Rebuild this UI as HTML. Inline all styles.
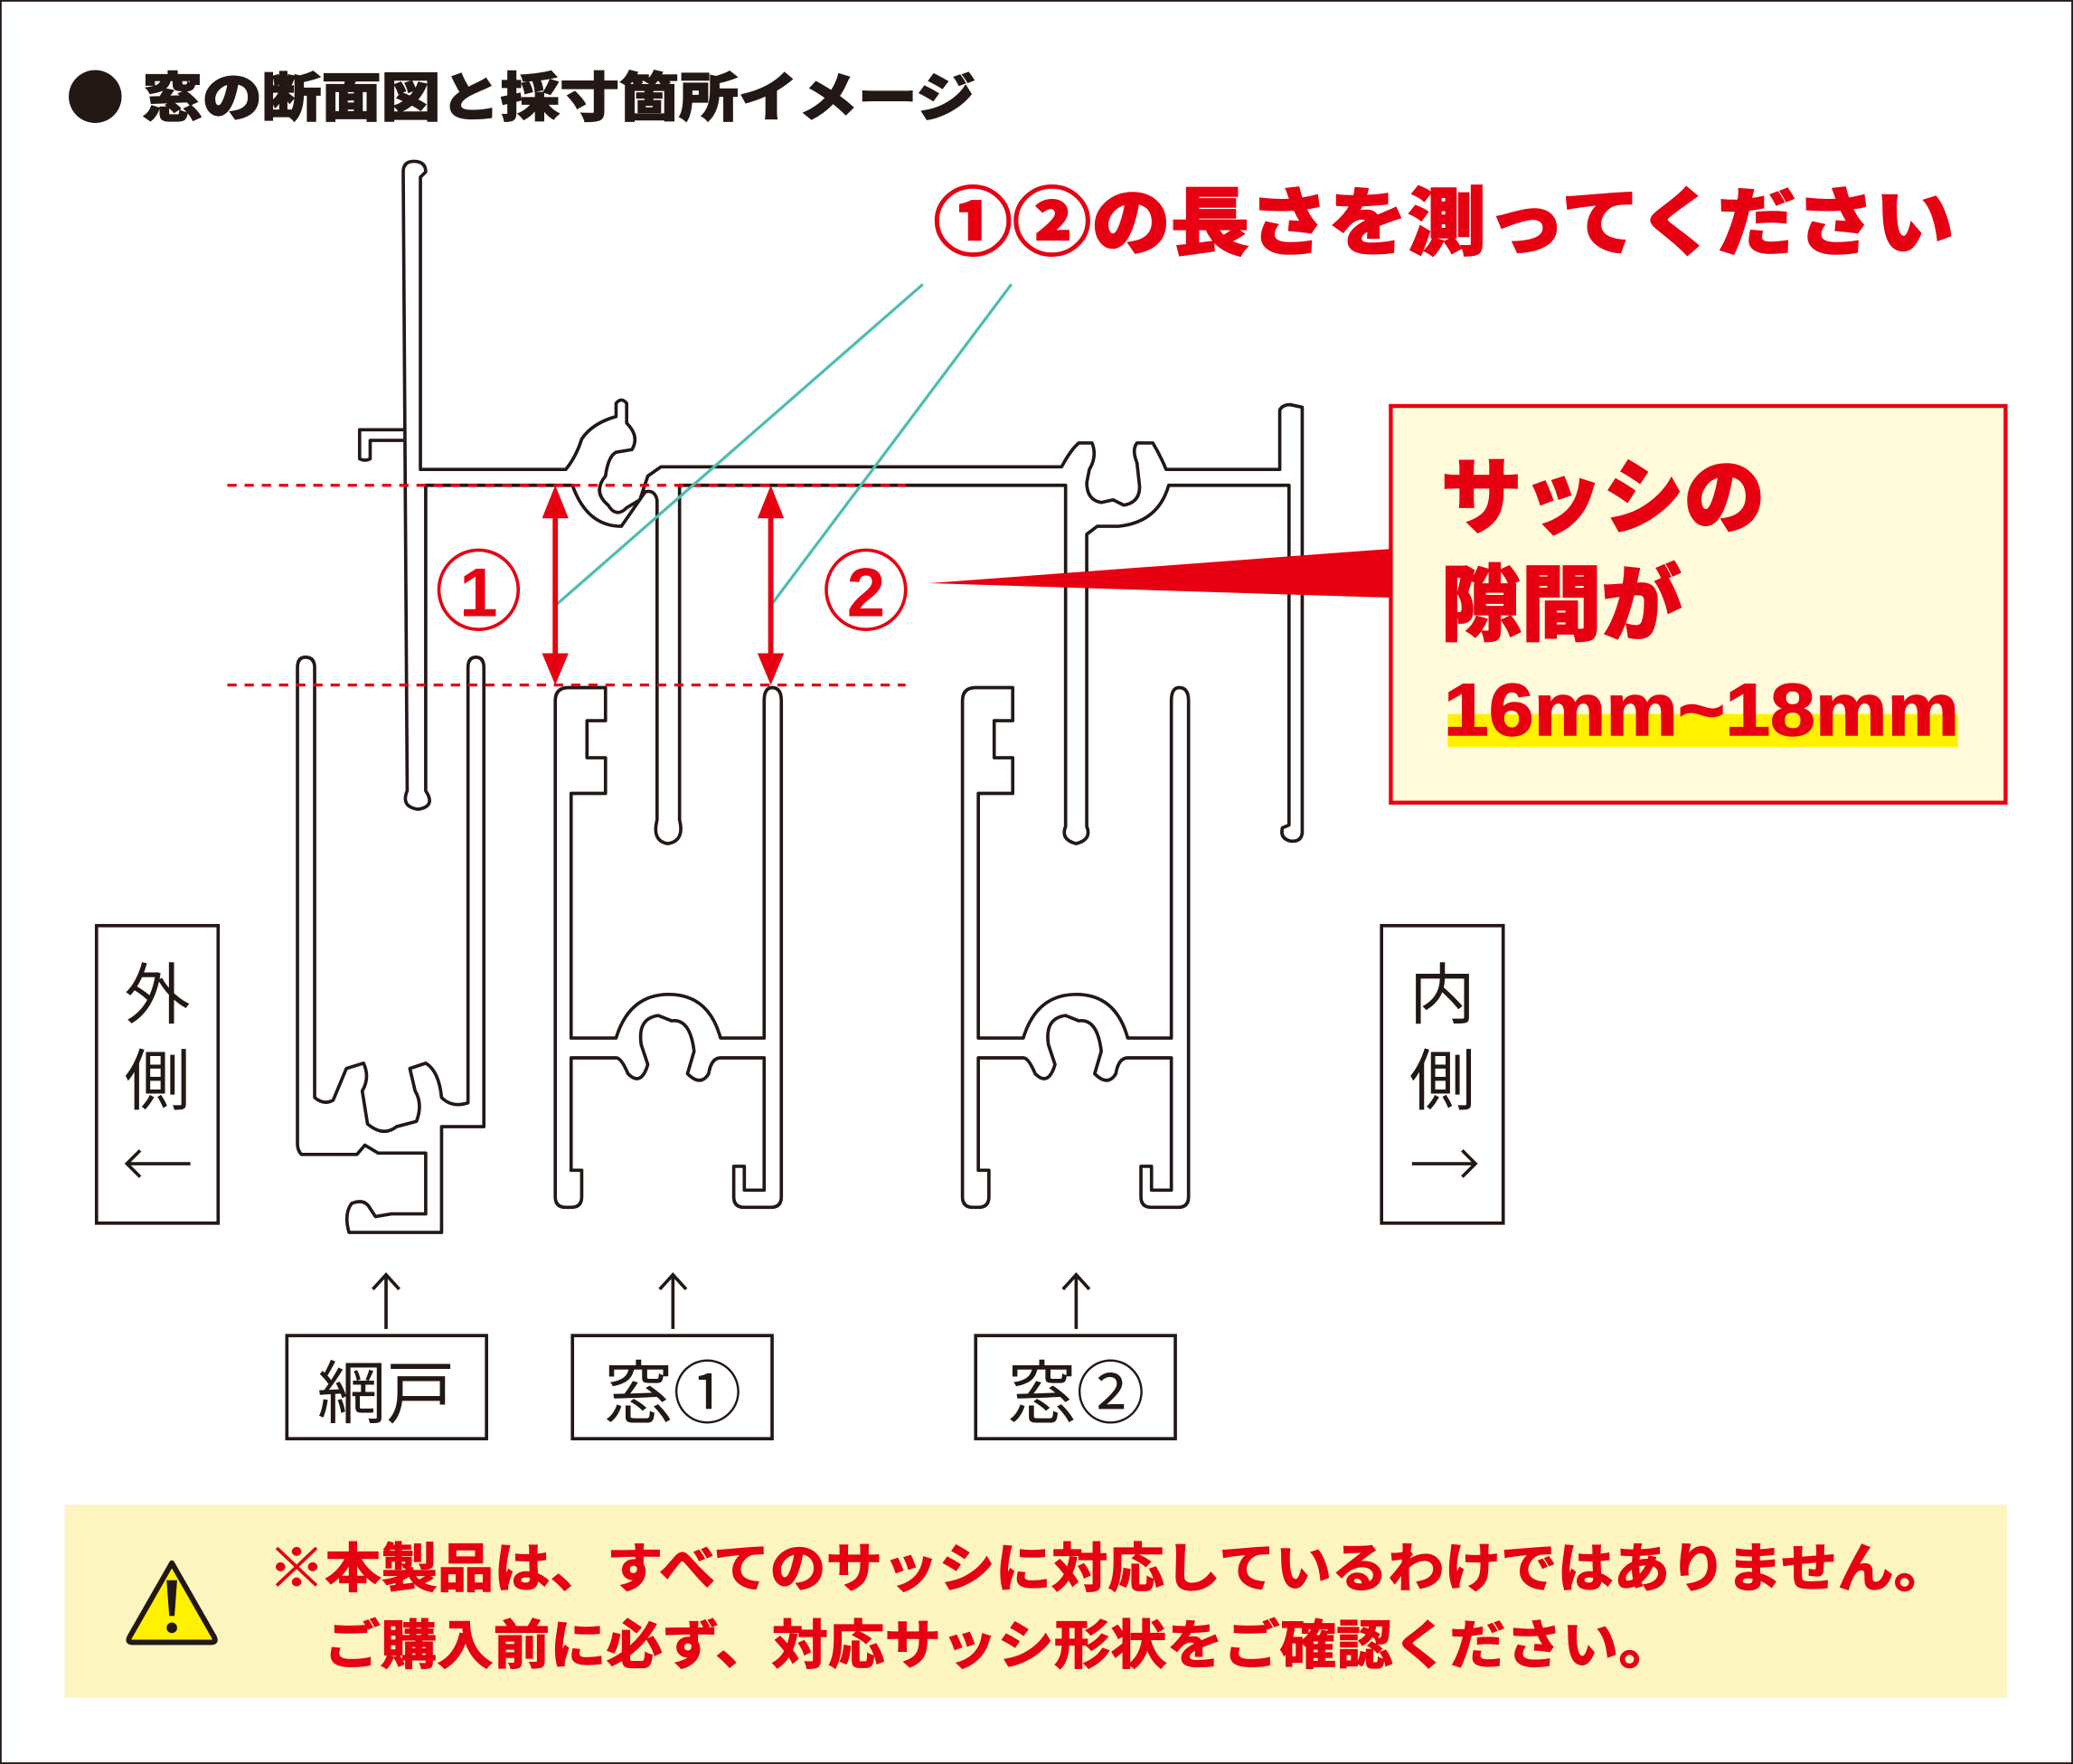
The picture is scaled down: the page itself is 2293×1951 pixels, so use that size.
<!DOCTYPE html>
<html><head><meta charset="utf-8"><style>
html,body{margin:0;padding:0;background:#fff}
svg{display:block}
</style></head><body>
<svg width="2293" height="1951" viewBox="0 0 1568 1334" preserveAspectRatio="none" xmlns="http://www.w3.org/2000/svg" font-family="'Liberation Sans','Noto Sans CJK JP',sans-serif">
<rect x="0.5" y="0.5" width="1567" height="1333" fill="#fff" stroke="#231815" stroke-width="1.5"/>
<circle cx="72" cy="73" r="20" fill="#231815"/>
<text x="108" y="88" font-size="40" font-weight="900" fill="#231815" stroke="#231815" stroke-width="0.8" textLength="630" lengthAdjust="spacingAndGlyphs">窓の断面図と採寸箇所イメージ</text>
<text x="706" y="188" font-size="56" font-weight="900" fill="#e60012" stroke="#e60012" stroke-width="1" textLength="772" lengthAdjust="spacingAndGlyphs">①②の長さを測ってください</text>

<g fill="#fff" stroke="#231815" stroke-width="2.5" stroke-linejoin="round">
<path d="M305,130 Q305,122 313,122 Q322,122 322,130 L318,134 L318,355 L428,355 Q436,345 440,332 Q448,320 466,315 L466,305 Q470,300 474,305 L474,320 Q484,330 478,340 L466,342 Q460,345 458,360 Q448,372 460,382 Q466,392 474,384 L484,378 L490,360 L500,353 L803,353 Q810,340 816,335 L826,335 Q830,345 824,355 L822,365 Q822,378 833,380 L842,378 L850,382 Q862,380 862,368 L860,350 Q856,340 860,335 L872,335 Q878,345 882,355 L968,355 L968,310 Q970,306 976,306 L985,308 L985,630 Q984,637 976,636 Q968,634 970,626 L975,624 L975,367 L884,367 Q876,395 846,398 L830,398 L822,404 L822,625 Q826,635 814,638 Q802,635 806,625 L806,367 L514,367 L514,620 Q518,636 505,638 Q493,636 497,620 L497,378 Q495,370 488,372 L470,398 Q444,398 433,367 L322,367 L322,598 Q330,610 316,612 Q303,610 308,598 Z"/>
<path d="M305,325 L272,325 L272,347 Q276,349 280,347 L280,333 L305,333"/>
<path d="M225,505 Q225,497 231,497 Q238,497 238,505 L238,830 Q245,836 252,832 L262,808 L275,804 Q280,815 274,825 L278,850 Q290,860 300,852 L315,848 Q320,835 314,825 L310,808 L322,804 Q332,810 334,830 Q342,838 354,834 L354,505 Q354,497 360,497 Q366,497 366,505 L366,852 L334,852 L334,932 L264,932 Q260,918 266,910 Q276,906 280,914 L284,920 L296,918 L322,918 L322,872 L286,872 L276,866 L270,873 L228,873 Q225,870 225,865 Z"/>
<g id="s">
<path d="M420,530 Q420,520 430,520 L458,520 L458,545 L444,545 L444,573 L458,573 L458,600 L432,600 L432,785 L466,785 Q476,752 506,752 Q536,752 545,785 L578,785 L578,530 Q578,520 584,520 Q591,520 591,530 L591,905 Q591,913 583,913 L563,913 Q555,913 555,905 L555,882 L563,882 L563,900 L578,900 L578,800 L545,800 Q538,800 536,812 Q530,822 520,812 L525,795 Q522,770 508,772 L498,768 Q482,770 485,790 L490,805 Q485,822 475,812 Q470,800 466,800 L432,800 L432,885 L440,885 L440,905 Q440,913 432,913 L428,913 Q420,913 420,905 Z"/>
</g>
<use href="#s" transform="translate(308,0)"/>
</g>

<g stroke="#e60012" stroke-width="2.2" stroke-dasharray="7,6">
<line x1="172" y1="367" x2="685" y2="367"/>
<line x1="172" y1="518" x2="685" y2="518"/>
</g>
<g stroke="#4dbdb0" stroke-width="2.2">
<line x1="698" y1="215" x2="420" y2="458"/>
<line x1="765" y1="215" x2="583" y2="458"/>
</g>
<g fill="#e60012" stroke="#e60012" stroke-width="4">
<line x1="420" y1="390" x2="420" y2="495"/>
<line x1="583" y1="390" x2="583" y2="495"/>
</g>
<g fill="#e60012">
<polygon points="420,367 410,392 430,392"/><polygon points="420,518 410,494 430,494"/>
<polygon points="583,367 573,392 593,392"/><polygon points="583,518 573,494 593,494"/>
<polygon points="703,441 1053,415 1053,452"/>
</g>
<g fill="#fff" stroke="#e60012" stroke-width="2.5">
<ellipse cx="362" cy="446" rx="30" ry="30"/><ellipse cx="655" cy="446" rx="30" ry="30"/>
</g>
<text x="362" y="466" font-size="52" font-weight="bold" fill="#e60012" text-anchor="middle">1</text>
<text x="655" y="466" font-size="52" font-weight="bold" fill="#e60012" text-anchor="middle">2</text>

<rect x="1052" y="307" width="465" height="300" fill="#fffbdb" stroke="#e60012" stroke-width="3"/>
<text x="1090" y="398" font-size="62" font-weight="900" fill="#e60012" stroke="#e60012" stroke-width="1.2" textLength="245" lengthAdjust="spacingAndGlyphs">サッシの</text>
<text x="1090" y="479" font-size="62" font-weight="900" fill="#e60012" stroke="#e60012" stroke-width="1.2" textLength="182" lengthAdjust="spacingAndGlyphs">隙間が</text>
<rect x="1095" y="540" width="386" height="25" fill="#fff100"/>
<text x="1092" y="556" font-size="56" font-weight="bold" fill="#e60012" stroke="#e60012" stroke-width="1" textLength="390" lengthAdjust="spacingAndGlyphs">16mm~18mm</text>

<g fill="#fff" stroke="#231815" stroke-width="2.5">
<rect x="73" y="700" width="92" height="225"/>
<rect x="1045" y="700" width="92" height="225"/>
<rect x="217" y="1010" width="151" height="78"/>
<rect x="433" y="1010" width="151" height="78"/>
<rect x="738" y="1010" width="151" height="78"/>
</g>
<g font-size="50" fill="#231815" text-anchor="middle">
<text x="119" y="770">外</text><text x="119" y="835">側</text>
<text x="1091" y="770">内</text><text x="1091" y="835">側</text>
</g>
<g stroke="#231815" stroke-width="2.5" fill="none">
<path d="M96,880 L144,880 M106,870 L96,880 L106,890"/>
<path d="M1068,880 L1116,880 M1106,870 L1116,880 L1106,890"/>
<path d="M292,1005 L292,964 M282,975 L292,964 L302,975"/>
<path d="M509,1005 L509,964 M499,975 L509,964 L519,975"/>
<path d="M814,1005 L814,964 M804,975 L814,964 L824,975"/>
</g>
<g font-size="52" fill="#231815" text-anchor="middle">
<text x="292" y="1072">網戸</text><text x="509" y="1072">窓①</text><text x="814" y="1072">窓②</text>
</g>

<rect x="49" y="1138" width="1469" height="146" fill="#fcf5c0"/>
<path d="M130,1182 L98,1238 Q96,1242 100,1242 L160,1242 Q164,1242 162,1238 Z" fill="#fff100" stroke="#231815" stroke-width="4" stroke-linejoin="round"/>
<path d="M126,1195 L134,1195 L132,1222 L128,1222 Z" fill="#231815"/>
<circle cx="130" cy="1231" r="4" fill="#231815"/>
<text x="203" y="1200" font-size="40" font-weight="bold" fill="#e60012" stroke="#e60012" stroke-width="0.8" textLength="1272" lengthAdjust="spacingAndGlyphs">※本製品は、すべてのサッシに対応しているわけではありません。</text>
<text x="245" y="1258" font-size="40" font-weight="bold" fill="#e60012" stroke="#e60012" stroke-width="0.8" textLength="1022" lengthAdjust="spacingAndGlyphs">ご購入前に必ず、対応サッシ形状をご確認ください。</text>
</svg>
</body></html>
